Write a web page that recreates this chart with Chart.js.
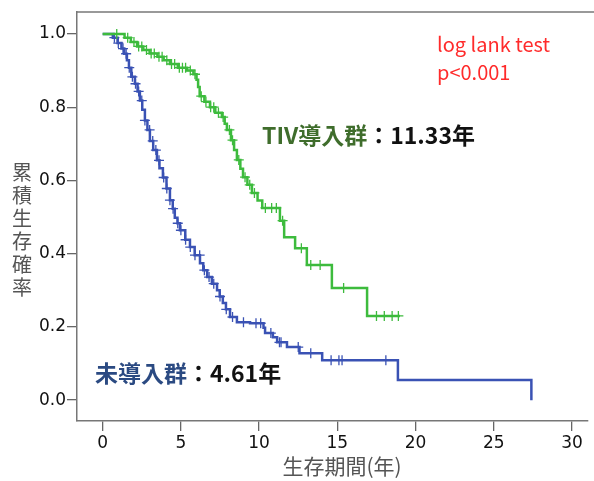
<!DOCTYPE html>
<html>
<head>
<meta charset="utf-8">
<script src="https://cdn.jsdelivr.net/npm/chart.js@4.4.1/dist/chart.umd.min.js"></script>
<style>
  html, body { margin: 0; padding: 0; background: #fff; }
</style>
</head>
<body>
<canvas id="kmChart" width="594" height="481"></canvas>
<script>
// axis ticks
const xTicks = [0, 5, 10, 15, 20, 25, 30];
const yTicks = [0, 0.2, 0.4, 0.6, 0.8, 1.0];

// TIV導入群 (step times / survival after each step)
const tivTimes = [0, 1.4, 1.8, 2.2, 2.6, 3.0, 3.5, 3.9, 4.3, 4.8, 5.4, 5.8, 6.0, 6.1, 6.2, 6.5, 6.86, 7.2, 7.62, 7.8, 7.94, 8.2, 8.4, 8.58, 8.8, 8.97, 9.25, 9.54, 9.9, 10.2, 11.33, 11.6, 12.3, 13.05, 14.65, 16.9, 19.0];
const tivSurv = [1.0, 0.99, 0.978, 0.966, 0.956, 0.947, 0.938, 0.928, 0.918, 0.908, 0.90, 0.89, 0.875, 0.855, 0.83, 0.815, 0.80, 0.785, 0.773, 0.755, 0.738, 0.71, 0.683, 0.656, 0.632, 0.609, 0.588, 0.566, 0.545, 0.525, 0.49, 0.445, 0.415, 0.369, 0.306, 0.23, 0.23];
const tivCensored = [0.9, 1.6, 2.0, 2.3, 2.5, 2.8, 3.1, 3.3, 3.6, 3.8, 4.1, 4.4, 4.6, 4.9, 5.1, 5.3, 5.6, 5.9, 6.3, 6.6, 6.9, 7.1, 7.4, 7.7, 8.1, 8.3, 8.7, 9.1, 9.4, 9.7, 10.4, 10.8, 11.1, 11.5, 12.7, 13.3, 13.9, 15.4, 17.5, 18.0, 18.5, 18.9];

// 未導入群
const noTivTimes = [0, 0.65, 0.95, 1.2, 1.38, 1.55, 1.68, 1.83, 2.06, 2.23, 2.38, 2.53, 2.7, 2.86, 3.02, 3.23, 3.47, 3.63, 3.85, 4.08, 4.3, 4.48, 4.61, 4.78, 4.94, 5.28, 5.58, 5.88, 6.22, 6.43, 6.68, 6.98, 7.31, 7.48, 7.68, 7.88, 8.14, 8.58, 9.42, 10.28, 10.38, 10.88, 11.15, 11.78, 12.58, 14.03, 18.87, 27.4];
const noTivSurv = [1.0, 0.99, 0.975, 0.96, 0.946, 0.928, 0.908, 0.883, 0.864, 0.843, 0.818, 0.793, 0.764, 0.738, 0.708, 0.683, 0.655, 0.633, 0.608, 0.578, 0.546, 0.523, 0.498, 0.483, 0.464, 0.438, 0.418, 0.396, 0.374, 0.355, 0.336, 0.318, 0.3, 0.283, 0.265, 0.248, 0.227, 0.213, 0.21, 0.198, 0.183, 0.172, 0.158, 0.145, 0.128, 0.109, 0.055, 0];
const noTivCensored = [0.75, 1.0, 1.3, 1.5, 1.7, 1.9, 2.1, 2.3, 2.5, 2.7, 3.0, 3.2, 3.4, 3.6, 3.9, 4.1, 4.3, 4.5, 4.8, 5.0, 5.3, 5.6, 5.9, 6.2, 6.5, 6.8, 7.1, 7.5, 7.9, 8.3, 9.0, 9.8, 10.1, 10.75, 11.3, 11.4, 12.5, 13.3, 14.6, 15.1, 15.3, 18.1];

const groupNames = ['TIV導入群', '未導入群'];
const medianTexts = ['11.33年', '4.61年'];
const testTexts = ['log lank test', 'p<0.001'];
const xTitle = '生存期間(年)';
const yTitle = '累積生存確率';

const green = '#3dbb3d';
const blue = '#3a52b4';

function stepPoints(times, surv) {
    return times.map((t, i) => ({ x: t, y: surv[i] }));
}

// survival value of the curve at a censoring time
function censorPoints(times, surv, censored) {
    return censored.map(t => {
        let s = surv[0];
        for (let i = 0; i < times.length; i++) {
            if (times[i] <= t) s = surv[i];
        }
        return { x: t, y: s };
    });
}

function drawParts(ctx, parts, x, y) {
    parts.forEach(p => {
        ctx.fillStyle = p.color;
        ctx.fillText(p.text, x, y);
        x += ctx.measureText(p.text).width;
    });
}

const extrasPlugin = {
    id: 'extras',
    afterDraw(chart) {
        const ctx = chart.ctx;
        const a = chart.chartArea;
        ctx.save();

        // top frame line
        ctx.strokeStyle = '#777';
        ctx.lineWidth = 1.5;
        ctx.beginPath();
        ctx.moveTo(a.left, a.top);
        ctx.lineTo(chart.width, a.top);
        ctx.stroke();

        ctx.textBaseline = 'middle';
        const jp = '"Noto Sans CJK JP", "Noto Sans", sans-serif';

        // axis titles
        ctx.fillStyle = '#555';
        ctx.font = '20px ' + jp;
        ctx.textAlign = 'center';
        [...yTitle].forEach((ch, i) => ctx.fillText(ch, 22, 172 + i * 23));
        ctx.font = '21px ' + jp;
        ctx.fillText(xTitle, 342, 466);

        // log rank text
        ctx.textAlign = 'left';
        ctx.font = '20px ' + jp;
        ctx.fillStyle = '#ff2b2b';
        ctx.fillText(testTexts[0], 437, 44);
        ctx.fillText(testTexts[1], 437, 72);

        // median labels
        ctx.font = 'bold 23px ' + jp;
        drawParts(ctx, [
            { text: groupNames[0], color: '#3f6d2c' },
            { text: '：' + medianTexts[0], color: '#111' }
        ], 262, 135);
        drawParts(ctx, [
            { text: groupNames[1], color: '#2b4a82' },
            { text: '：' + medianTexts[1], color: '#111' }
        ], 95, 373);

        ctx.restore();
    }
};

const axisGrid = {
    display: true,
    drawOnChartArea: false,
    drawTicks: true,
    tickLength: 10,
    color: '#666',
    lineWidth: 1.3
};

const tickFont = { family: '"DejaVu Sans", sans-serif', size: 17 };

new Chart(document.getElementById('kmChart'), {
    type: 'line',
    data: {
        datasets: [
            {
                label: groupNames[0] + ' censored',
                data: censorPoints(tivTimes, tivSurv, tivCensored),
                showLine: false,
                pointStyle: 'cross',
                pointRadius: 5,
                pointBorderWidth: 1.3,
                borderColor: green,
                backgroundColor: green
            },
            {
                label: groupNames[0],
                data: stepPoints(tivTimes, tivSurv),
                stepped: true,
                borderColor: green,
                borderWidth: 2.5,
                pointRadius: 0,
                fill: false
            },
            {
                label: groupNames[1] + ' censored',
                data: censorPoints(noTivTimes, noTivSurv, noTivCensored),
                showLine: false,
                pointStyle: 'cross',
                pointRadius: 5,
                pointBorderWidth: 1.3,
                borderColor: blue,
                backgroundColor: blue
            },
            {
                label: groupNames[1],
                data: stepPoints(noTivTimes, noTivSurv),
                stepped: true,
                borderColor: blue,
                borderWidth: 2.5,
                pointRadius: 0,
                fill: false
            }
        ]
    },
    options: {
        responsive: false,
        animation: false,
        layout: { padding: { top: 12, left: 0, right: 0, bottom: 0 } },
        plugins: {
            legend: { display: false },
            tooltip: { enabled: false }
        },
        scales: {
            x: {
                type: 'linear',
                min: -1.64,
                max: 31.0,
                afterBuildTicks: scale => { scale.ticks = xTicks.map(v => ({ value: v })); },
                afterFit: scale => { scale.height = 60; },
                grid: axisGrid,
                border: { display: true, color: '#777', width: 1.5 },
                ticks: { color: '#111', padding: 2, maxRotation: 0, font: tickFont }
            },
            y: {
                min: -0.057,
                max: 1.06,
                afterBuildTicks: scale => { scale.ticks = yTicks.map(v => ({ value: v })); },
                afterFit: scale => { scale.width = 77; },
                grid: axisGrid,
                border: { display: true, color: '#777', width: 1.5 },
                ticks: {
                    color: '#111',
                    padding: 1,
                    callback: v => v.toFixed(1),
                    font: tickFont
                }
            }
        }
    },
    plugins: [extrasPlugin]
});
</script>
</body>
</html>
